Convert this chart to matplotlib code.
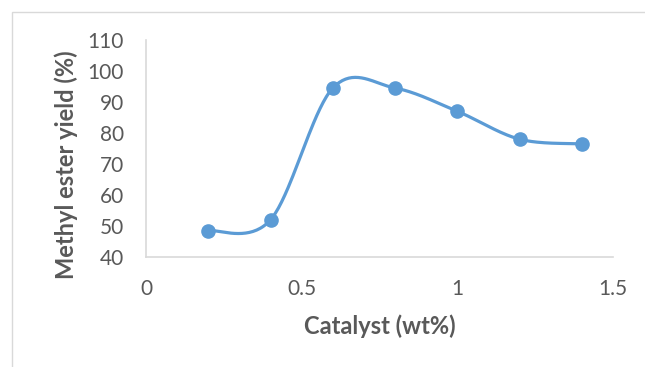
import numpy as np
import matplotlib
matplotlib.use("Agg")
import matplotlib.pyplot as plt
from matplotlib.patches import Rectangle

catalyst = [0.2, 0.4, 0.6, 0.8, 1.0, 1.2, 1.4]
yield_pct = [48.5, 52.0, 94.5, 94.5, 87.0, 78.0, 76.5]
x_ticks = [0, 0.5, 1, 1.5]
y_ticks = [40, 50, 60, 70, 80, 90, 100, 110]

blue = "#5B9BD5"
grey_text = "#595959"
grey_line = "#D9D9D9"


def smooth(xs, ys, n=40):
    # Catmull-Rom style Bezier smoothing between points
    xs = np.asarray(xs, float)
    ys = np.asarray(ys, float)
    px = np.concatenate([[xs[0]], xs, [xs[-1]]])
    py = np.concatenate([[ys[0]], ys, [ys[-1]]])
    out_x, out_y = [], []
    t = np.linspace(0, 1, n)
    for i in range(1, len(px) - 2):
        p0 = np.array([px[i], py[i]])
        p3 = np.array([px[i + 1], py[i + 1]])
        c1 = p0 + (np.array([px[i + 1], py[i + 1]]) - np.array([px[i - 1], py[i - 1]])) / 6
        c2 = p3 - (np.array([px[i + 2], py[i + 2]]) - np.array([px[i], py[i]])) / 6
        b = ((1 - t) ** 3)[:, None] * p0 + (3 * (1 - t) ** 2 * t)[:, None] * c1 \
            + (3 * (1 - t) * t ** 2)[:, None] * c2 + (t ** 3)[:, None] * p3
        out_x.extend(b[:, 0])
        out_y.extend(b[:, 1])
    return out_x, out_y


fig = plt.figure(figsize=(6.45, 3.67), dpi=100)
plt.rcParams['font.family'] = ['Lato', 'DejaVu Sans']

# chart area frame
fig.patches.append(Rectangle((12 / 645, -0.1), 1.0, 1 - 12 / 367 + 0.1,
                             transform=fig.transFigure, fill=False,
                             edgecolor=grey_line, linewidth=1.0))

ax = fig.add_axes([146 / 645, 1 - 257 / 367, (613 - 146) / 645, (257 - 40) / 367])

sx, sy = smooth(catalyst, yield_pct)
ax.plot(sx, sy, color=blue, linewidth=2.3, solid_capstyle='round')
ax.plot(catalyst, yield_pct, 'o', color=blue, markersize=9.5)

ax.set_xlim(0, 1.5)
ax.set_ylim(40, 110)
ax.set_xticks(x_ticks)
ax.set_xticklabels(["0", "0.5", "1", "1.5"])
ax.set_yticks(y_ticks)
ax.tick_params(length=0, labelsize=15, colors=grey_text)
ax.tick_params(axis='x', pad=16)
ax.tick_params(axis='y', pad=16)
for s in ['top', 'right']:
    ax.spines[s].set_visible(False)
for s in ['left', 'bottom']:
    ax.spines[s].set_color(grey_line)
    ax.spines[s].set_linewidth(1.2)

fig.text(380 / 645, 1 - 326 / 367, "Catalyst (wt%)", ha='center', va='center',
         fontsize=17, fontweight='bold', color=grey_text)
fig.text(66 / 645, 1 - 165 / 367, "Methyl ester yield (%)", ha='center', va='center',
         rotation=90, fontsize=17, fontweight='bold', color=grey_text)

fig.savefig("out.png", dpi=100)
